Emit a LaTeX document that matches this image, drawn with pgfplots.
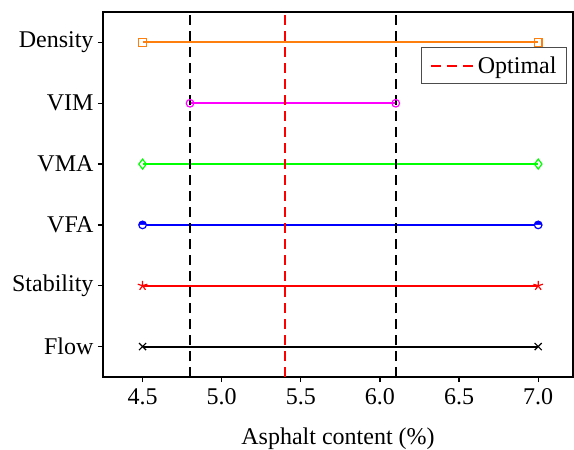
\documentclass[border=0pt]{standalone}
\usepackage{fontspec}
\setmainfont{Liberation Serif}
\usepackage{pgfplots}
\pgfplotsset{compat=1.18}
\usetikzlibrary{calc}
\definecolor{morange}{HTML}{FF7F0E}
\definecolor{mgreen}{HTML}{00FF00}
\definecolor{mmagenta}{HTML}{FF00FF}
\begin{document}
\begin{tikzpicture}
\begin{axis}[
  scale only axis, width=470pt, height=365pt,
  xmin=4.25, xmax=7.22, ymin=-0.5, ymax=5.5,
  xtick={4.5,5.0,5.5,6.0,6.5,7.0},
  xticklabel style={/pgf/number format/fixed,/pgf/number format/fixed zerofill,/pgf/number format/precision=1},
  /pgf/number format/assume math mode=true,
  ytick={0,1,2,3,4,5},
  yticklabels={Flow,Stability,VFA,VMA,VIM,Density},
  tick align=outside, major tick length=5pt,
  xtick pos=bottom, ytick pos=left,
  axis line style={line width=1.2pt},
  tick style={line width=1.2pt, black},
  xlabel={Asphalt content (\%)},
  xlabel style={yshift=-16pt},
  ticklabel style={font=\fontsize{24}{28}\selectfont},
  xticklabel style={yshift=-3pt},
  yticklabel style={xshift=-1pt},
  label style={font=\fontsize{24}{28}\selectfont},
  legend style={at={(1-6/470,1-35/365)}, anchor=north east, draw=black!70, line width=0.9pt, font=\fontsize{24}{28}\selectfont, inner xsep=8pt, inner ysep=7pt},
  legend cell align=left,
  legend image code/.code={\draw[#1, line width=2pt] (0pt,0pt) -- (44pt,0pt);},
]
\addplot[color=morange, line width=2pt, mark=square, mark size=3.8pt, mark options={solid, line width=1.2pt}, forget plot] coordinates {(4.5,5)(7.0,5)};
\addplot[color=mmagenta, line width=2pt, mark=o, mark size=3.8pt, mark options={solid, line width=1.2pt}, forget plot] coordinates {(4.8,4)(6.1,4)};
\addplot[color=mgreen, line width=2pt, mark=diamond, mark size=5pt, mark options={solid, line width=1.2pt}, forget plot] coordinates {(4.5,3)(7.0,3)};
\addplot[color=blue, line width=2pt, mark=halfcircle*, mark size=3.8pt, mark options={solid, line width=1.2pt, rotate=0}, forget plot] coordinates {(4.5,2)(7.0,2)};
\addplot[color=red, line width=2pt, mark=star, mark size=5pt, mark options={solid, line width=1.2pt}, forget plot] coordinates {(4.5,1)(7.0,1)};
\addplot[color=black, line width=2pt, mark=x, mark size=5pt, mark options={solid, line width=1.2pt}, forget plot] coordinates {(4.5,0)(7.0,0)};
\addplot[black, line width=2pt, dash pattern=on 10pt off 6pt, forget plot] coordinates {(4.8,-0.5)(4.8,5.5)};
\addplot[black, line width=2pt, dash pattern=on 10pt off 6pt, forget plot] coordinates {(6.1,-0.5)(6.1,5.5)};
\addplot[red, line width=2pt, dash pattern=on 10pt off 6pt] coordinates {(5.4,-0.5)(5.4,5.5)};
\addlegendentry{Optimal}
\end{axis}
\pgfresetboundingbox
\path ($(current axis.south west)+(-103pt,-72pt)$) rectangle ($(current axis.north east)+(1pt,12pt)$);
\end{tikzpicture}
\end{document}
